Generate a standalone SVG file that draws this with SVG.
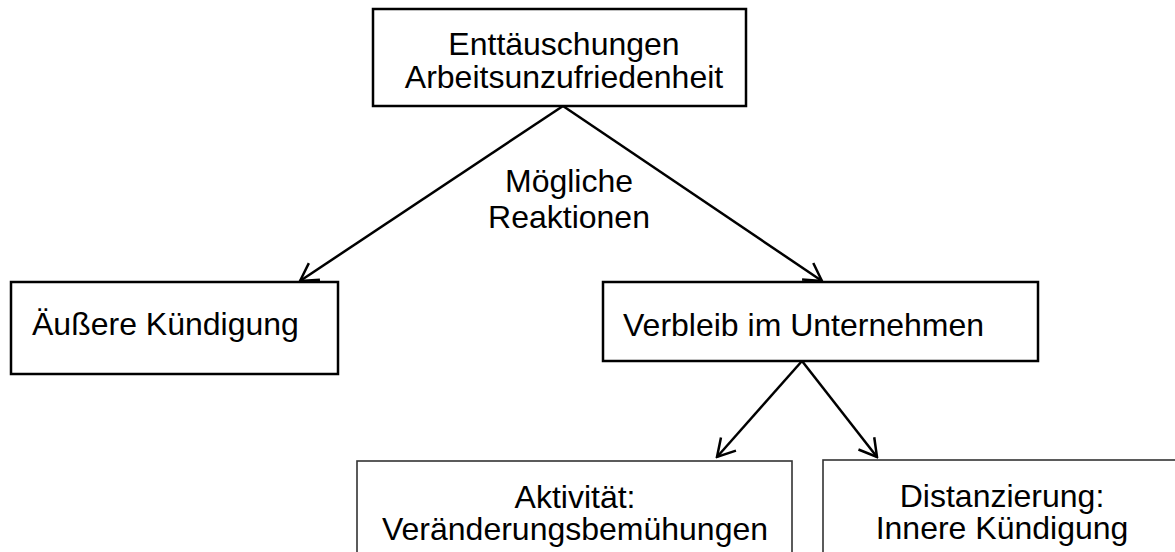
<svg xmlns="http://www.w3.org/2000/svg" width="1175" height="552" viewBox="0 0 1175 552">
<style>
  .box { fill: #fff; stroke: #000; stroke-width: 2.5; }
  .box2 { fill: #fff; stroke: #333; stroke-width: 1.6; }
  .t { font-family: "Liberation Sans", Arial, sans-serif; font-size: 32px; fill: #000; }
  .c { text-anchor: middle; }
  .edge { stroke: #000; stroke-width: 2.5; fill: none; marker-end: url(#arr); }
</style>
<defs>
  <marker id="arr" markerUnits="userSpaceOnUse" viewBox="-22 -13 24 26" refX="0" refY="0" markerWidth="24" markerHeight="26" orient="auto">
    <path d="M-17.3,-10 L0,0 L-17.3,10" fill="none" stroke="#000" stroke-width="2.5" stroke-linejoin="miter"/>
  </marker>
</defs>
<rect width="1175" height="552" fill="#fff"/>
<g id="connectors">
  <line class="edge" x1="563" y1="106" x2="300" y2="281"/>
  <line class="edge" x1="563" y1="106" x2="822" y2="281"/>
  <line class="edge" x1="802" y1="361" x2="717" y2="457"/>
  <line class="edge" x1="802" y1="361" x2="877" y2="457"/>
</g>
<g id="label-reaktionen">
  <text class="t c" x="569" y="192">Mögliche</text>
  <text class="t c" x="569" y="228">Reaktionen</text>
</g>
<g id="node-top">
  <rect class="box" x="373" y="9" width="373" height="97"/>
  <text class="t c" x="564" y="55">Enttäuschungen</text>
  <text class="t c" x="564" y="88">Arbeitsunzufriedenheit</text>
</g>
<g id="node-aeussere">
  <rect class="box" x="11" y="282" width="327" height="92"/>
  <text class="t" x="32" y="335">Äußere Kündigung</text>
</g>
<g id="node-verbleib">
  <rect class="box" x="603" y="282" width="435" height="79"/>
  <text class="t" x="623" y="336">Verbleib im Unternehmen</text>
</g>
<g id="node-aktivitaet">
  <rect class="box2" x="357" y="461" width="435" height="100"/>
  <text class="t c" x="575" y="508">Aktivität:</text>
  <text class="t c" x="575" y="540">Veränderungsbemühungen</text>
</g>
<g id="node-distanzierung">
  <rect class="box2" x="823" y="460" width="360" height="100"/>
  <text class="t c" x="1002" y="507">Distanzierung:</text>
  <text class="t c" x="1002" y="539">Innere Kündigung</text>
</g>
</svg>
